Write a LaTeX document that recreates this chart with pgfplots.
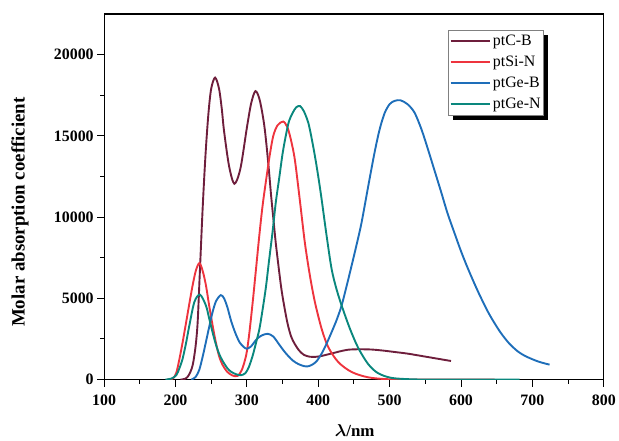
\documentclass[border=0pt]{standalone}
\usepackage{bm}
\usepackage{fontspec}
\setmainfont{Liberation Serif}
\usepackage{pgfplots}
\pgfplotsset{compat=1.18}
\pgfdeclarelayer{bg}
\pgfsetlayers{bg,main}

\definecolor{cMaroon}{RGB}{110,30,60}
\definecolor{cRed}{RGB}{238,52,62}
\definecolor{cBlue}{RGB}{30,110,185}
\definecolor{cTeal}{RGB}{10,135,125}

\begin{document}
\begin{tikzpicture}
\begin{axis}[
    scale only axis,
    width=501.5bp, height=367bp,
    xmin=100, xmax=800, ymin=0, ymax=22500,
    xtick={100,200,...,800},
    ytick={0,5000,...,20000},
    minor x tick num=1, minor y tick num=1,
    tick align=outside,
    xtick pos=bottom, ytick pos=left,
    major tick length=7bp, minor tick length=4bp,
    axis line style={line width=1.2bp},
    every tick/.style={black, line width=1bp},
    ticklabel style={font=\bfseries\fontsize{16}{16}\selectfont},
    xticklabel style={yshift=-5bp},
    /pgf/number format/assume math mode=true,
    /pgf/number format/1000 sep={},
    scaled y ticks=false,
    xlabel={$\bm{\lambda}$\textbf{/nm}},
    ylabel={\textbf{Molar absorption coefficient}},
    xlabel style={font=\fontsize{17}{17}\selectfont,
        at={(axis description cs:0.5015,-0.139)}, anchor=center},
    ylabel style={font=\fontsize{19}{19}\selectfont,
        at={(axis description cs:-0.1685,0.458)}, anchor=center},
    legend style={name=leg, at={(axis description cs:0.689,0.956)}, anchor=north west,
        draw=gray, line width=0.6bp, fill=white,
        font=\fontsize{16}{16}\selectfont, row sep=3bp,
        inner xsep=1bp, inner ysep=2bp,
        nodes={inner sep=1.5bp, text height=11.5bp, text depth=3.5bp}},
    legend cell align=left,
    legend image code/.code={\draw[#1] (0bp,0bp) -- (40bp,0bp);},
    every axis plot/.append style={line width=1.9bp, smooth},
]

% ptC-B
\addplot[cMaroon] coordinates {
(207,0) (214,60) (219,300) (224,880) (228,2000) (231,3500) (234,6500)
(238,10500) (242,13800) (246,16300) (250,17900) (255.5,18580) (261,17900)
(265,16600) (268,15300) (275,13150) (282.5,12050) (291,13000) (300,15500)
(306,17000) (312,17750) (318,17200) (324.5,15600) (330,13300) (334,11300)
(338,9500) (341,8200) (347.7,5790) (352,4600) (357,3450) (362,2650)
(367,2200) (373,1800) (380,1520) (388,1410) (396,1400) (405,1460) (418,1600)
(442,1840) (470,1860) (490,1790) (507,1700) (525,1600) (540,1490) (560,1340)
(586,1145)
};
\addlegendentry{ptC-B}

% ptSi-N
\addplot[cRed] coordinates {
(188,0) (196,60) (201,400) (205.6,1290) (210,2300) (214.8,3500) (219.5,4700)
(224,5800) (228.5,6700) (233.4,7170) (238,6700) (242.7,5790) (247,4600)
(252,3330) (256,2400) (261,1450) (266,900) (272.7,470) (280,250) (287,230)
(293,600) (299,1500) (303,2700) (308,4700) (313,6900) (317.5,8900)
(322,10700) (327,12300) (332,13800) (337,15000) (343,15650) (351,15880)
(357,15500) (362,14700) (367.3,13500) (374.3,11000) (381.3,8400) (388.3,6400)
(395.3,4770) (404.7,3130) (414,2000) (428,1080) (446.7,470) (470,140)
(500,20) (550,2) (647,0)
};
\addlegendentry{ptSi-N}

% ptGe-B
\addplot[cBlue] coordinates {
(222,0) (228,150) (233.3,600) (238,1400) (242.6,2310) (247,3200) (251.9,4150)
(257,4850) (263.5,5200) (268,5000) (272.7,4450) (278,3600) (284,2850)
(290,2280) (295.8,2000) (300,1900) (306,2050) (313,2450) (320,2700) (329,2820)
(337,2650) (345.4,2150) (354,1650) (363.9,1190) (372,960) (380,830) (386,820)
(392,930) (398,1150) (404.7,1600) (411,2150) (418.7,2920) (426,3700)
(432.7,4560) (439.7,5750) (446.7,7010) (453.7,8300) (460.7,9670) (470,11900)
(479,14000) (486,15400) (493,16400) (500,16950) (507,17150) (515,17190)
(525,16950) (535,16420) (545,15350) (553.7,14170) (563,12850) (572.4,11510)
(581,10250) (591,9000) (600,7900) (610,6800) (624,5400) (638,4150)
(648,3400) (657,2800) (668,2200) (680,1720) (690,1450) (703.5,1190)
(712,1060) (724,920)
};
\addlegendentry{ptGe-B}

% ptGe-N
\addplot[cTeal] coordinates {
(186,0) (194,60) (201,266) (205.5,700) (210,1290) (215,2300) (219.4,3330)
(226.4,4770) (234.3,5230) (242.6,4560) (247,3800) (251.9,2920) (256,2250)
(261,1600) (266,1150) (272.7,700) (278,480) (285,330) (291.6,270) (298,400)
(303,800) (308.3,1500) (313,2300) (317.5,3100) (322,4300) (326.7,5700)
(331,7300) (336,9100) (340.5,10900) (345.3,12400) (350,13900) (354.5,15000)
(359,15900) (364,16400) (369,16750) (374.5,16830) (380,16500) (386,15810)
(390.5,14900) (395.3,13760) (400,12500) (404.7,11100) (411.7,8850)
(418.7,6810) (426,5500) (434,4400) (444.4,3130) (456,1950) (470,950)
(483.6,400) (502,110) (530,20) (560,5) (682,0)
};
\addlegendentry{ptGe-N}

\end{axis}
\begin{pgfonlayer}{bg}
\fill[black] ([shift={(5bp,-5bp)}]leg.south west) rectangle ([shift={(5bp,-5bp)}]leg.north east);
\end{pgfonlayer}
\path (-104.5bp,-61bp) rectangle (514.5bp,381bp);
\end{tikzpicture}
\end{document}
